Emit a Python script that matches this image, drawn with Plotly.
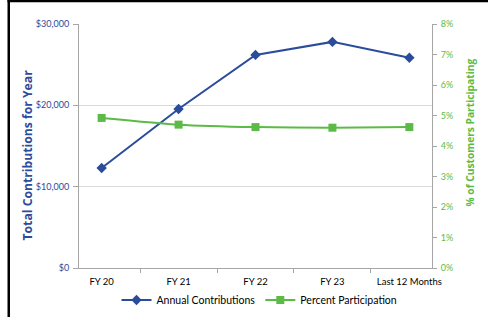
import plotly.graph_objects as go

categories = ["FY 20", "FY 21", "FY 22", "FY 23", "Last 12 Months"]
contributions = [12300, 19550, 26200, 27800, 25850]
participation = [0.0492, 0.0470, 0.0462, 0.0460, 0.0462]
left_ticks = [0, 10000, 20000, 30000]
left_tick_labels = ["$0", "$10,000", "$20,000", "$30,000"]

BLUE = "#2B4C9B"
GREEN = "#5CBB46"
FONT = "Lato"
TITLE_FONT = "Open Sans"

W, H = 488, 317
L, R, T, B = 79, 56, 24, 49
pw, ph = W - L - R, H - T - B

def px_x(x):
    return (x - L) / pw

def px_y(y):
    return (H - B - y) / ph

fig = go.Figure()
fig.add_trace(go.Scatter(
    x=categories, y=contributions, name="Annual Contributions",
    mode="lines+markers",
    line=dict(color=BLUE, width=2),
    marker=dict(symbol="diamond", size=8, color=BLUE),
))
fig.add_trace(go.Scatter(
    x=categories, y=participation, name="Percent Participation",
    mode="lines+markers", yaxis="y2",
    line=dict(color=GREEN, width=2, shape="spline", smoothing=0.6),
    marker=dict(symbol="square", size=8, color=GREEN),
))

fig.update_layout(
    width=W, height=H,
    margin=dict(l=L, r=R, t=T, b=B, pad=0, autoexpand=False),
    paper_bgcolor="white", plot_bgcolor="white",
    font=dict(family=FONT, size=10, color="#000000"),
    showlegend=True,
    legend=dict(orientation="h", x=px_x(259.5), xanchor="center",
                y=px_y(300), yanchor="middle",
                font=dict(family=FONT, size=10.5, color="#000000"),
                itemwidth=30, tracegroupgap=0, bgcolor="rgba(0,0,0,0)"),
    xaxis=dict(
        type="category", showgrid=False, showline=True, linecolor="#A6A6A6",
        linewidth=1, ticks="outside", ticklen=4, tickcolor="#A6A6A6",
        tickson="boundaries", ticklabelstandoff=5, automargin=False,
        tickfont=dict(family=FONT, size=9.5, color="#000000"),
        zeroline=False,
    ),
    yaxis=dict(
        range=[0, 30000], tickvals=left_ticks, ticktext=left_tick_labels,
        showgrid=True, gridcolor="#D9D9D9", gridwidth=1,
        showline=True, linecolor="#A6A6A6", linewidth=1, automargin=False,
        ticks="outside", ticklen=5, tickcolor="#A6A6A6", ticklabelstandoff=2,
        tickfont=dict(family=FONT, size=9, color=BLUE), zeroline=False,
    ),
    yaxis2=dict(
        range=[0, 0.08], dtick=0.01, tickformat=".0%", overlaying="y",
        side="right", showgrid=False, showline=True, linecolor="#A6A6A6",
        linewidth=1, ticks="outside", ticklen=4, tickcolor="#A6A6A6",
        ticklabelstandoff=2, automargin=False,
        tickfont=dict(family=FONT, size=9, color=GREEN), zeroline=False,
    ),
    annotations=[
        dict(text="<b>Total Contributions for Year</b>", xref="paper", yref="paper",
             x=px_x(27), y=px_y(155.5), textangle=-90, showarrow=False,
             font=dict(family=TITLE_FONT, size=12.2, color=BLUE),
             xanchor="center", yanchor="middle"),
        dict(text="<b>% of Customers Participating</b>", xref="paper", yref="paper",
             x=px_x(469), y=px_y(132.5), textangle=-90, showarrow=False,
             font=dict(family=TITLE_FONT, size=10.2, color=GREEN),
             xanchor="center", yanchor="middle"),
    ],
    shapes=[
        dict(type="line", xref="paper", yref="paper",
             x0=px_x(8.75), x1=px_x(8.75), y0=px_y(330), y1=px_y(0),
             line=dict(color="black", width=2.5)),
        dict(type="line", xref="paper", yref="paper",
             x0=px_x(7.5), x1=px_x(488), y0=px_y(1), y1=px_y(1),
             line=dict(color="black", width=2.5)),
    ],
)

fig.write_html("out.html", config={"displayModeBar": False},
               post_script="document.body.style.margin='0';document.body.style.overflow='hidden';")
